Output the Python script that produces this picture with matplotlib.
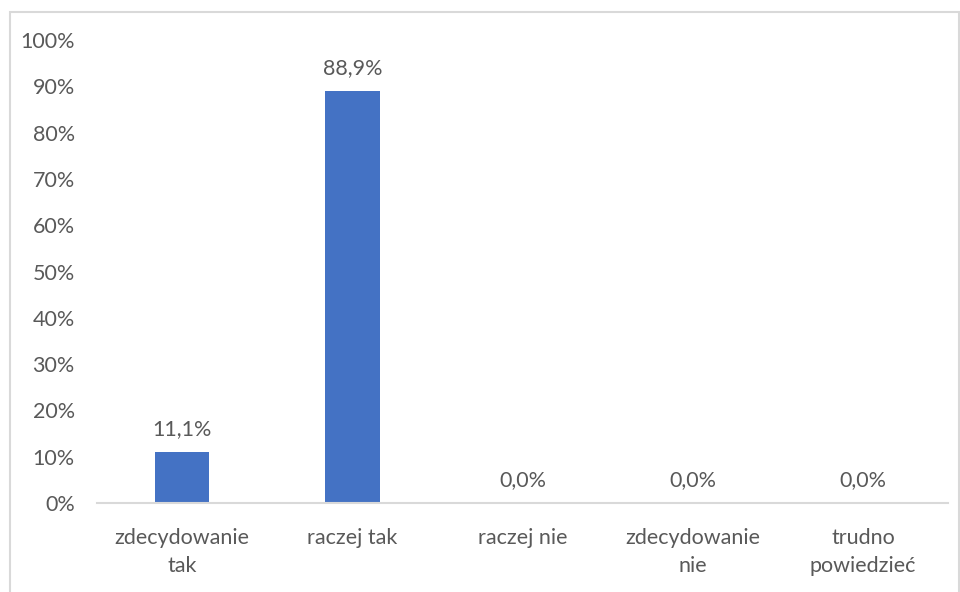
import matplotlib
matplotlib.use("Agg")
import matplotlib.pyplot as plt
from matplotlib.patches import Rectangle

categories = ["zdecydowanie\ntak", "raczej tak", "raczej nie", "zdecydowanie\nnie", "trudno\npowiedzieć"]
values = [11.1, 88.9, 0.0, 0.0, 0.0]
yticks = [0, 10, 20, 30, 40, 50, 60, 70, 80, 90, 100]

plt.rcParams['font.family'] = ['Lato', 'DejaVu Sans']
txt = '#595959'
fs = 15.5

fig = plt.figure(figsize=(9.6, 5.92), dpi=100)
fig.patches.append(Rectangle((10/960, -0.1), (949)/960, (592-12)/592 + 0.1,
                             transform=fig.transFigure, fill=False,
                             edgecolor='#D9D9D9', linewidth=1.5))
ax = fig.add_axes([97/960, 89/592, 851/960, 463/592])
x = list(range(len(categories)))
ax.bar(x, values, width=0.32, color='#4472C4')
for xi, v in zip(x, values):
    ax.text(xi, v + 2.8, f"{v:.1f}%".replace('.', ','), ha='center', va='bottom',
            fontsize=fs, color=txt)
ax.set_xlim(-0.5, len(categories) - 0.5)
ax.set_ylim(0, 100)
ax.set_yticks(yticks)
ax.set_yticklabels([f"{t}%" for t in yticks])
ax.set_xticks(x)
ax.set_xticklabels(categories, linespacing=1.5)
ax.tick_params(axis='both', length=0, labelsize=fs, labelcolor=txt)
ax.tick_params(axis='y', pad=16)
ax.tick_params(axis='x', pad=18)
for s in ['top', 'right', 'left']:
    ax.spines[s].set_visible(False)
ax.spines['bottom'].set_color('#D9D9D9')
ax.spines['bottom'].set_linewidth(1.5)
fig.savefig('out.png', dpi=100, facecolor='white')
